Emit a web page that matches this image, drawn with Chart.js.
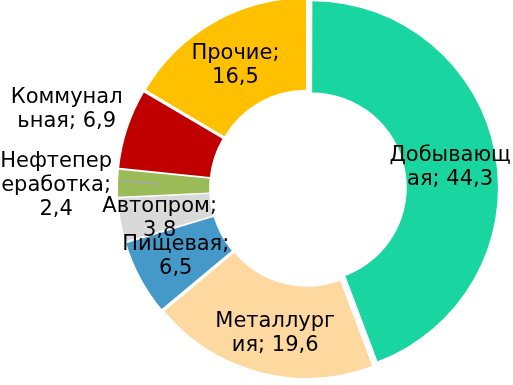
<!DOCTYPE html>
<html>
<head>
<meta charset="utf-8">
<script src="https://cdn.jsdelivr.net/npm/chart.js@4/dist/chart.umd.min.js"></script>
<style>
html,body{margin:0;padding:0;background:#fff;}
canvas{display:block;}
</style>
</head>
<body>
<canvas id="c" width="513" height="385"></canvas>
<script>
const categories = ['Добывающая', 'Металлургия', 'Пищевая', 'Автопром', 'Нефтепереработка', 'Коммунальная', 'Прочие'];
const values = [44.3, 19.6, 6.5, 3.8, 2.4, 6.9, 16.5];
const labelLines = [
  ['Добывающ', 'ая; 44,3'],
  ['Металлург', 'ия; 19,6'],
  ['Пищевая;', '6,5'],
  ['Автопром;', '3,8'],
  ['Нефтепер', 'еработка;', '2,4'],
  ['Коммунал', 'ьная; 6,9'],
  ['Прочие;', '16,5']
];
const colors = ['#19d6a0', '#fdd89f', '#4499c9', '#d9d9d9', '#9bbb59', '#c00000', '#ffc000'];

const EXPLODE = 4;               // pixels each slice is pulled out
// label placement: extra = distance beyond the outer edge for outside labels; dx/dy = small nudges
const labelPlacement = [
  {dx: 0, dy: 5},
  {dx: 4, dy: 6},
  {dx: -5, dy: 0},
  {dx: -6, dy: 6},
  {extra: 66, dx: 0, dy: 4, leader: true},
  {extra: 68, dx: 0, dy: 1},
  {dx: -1, dy: 3}
];

// Chart.js grows small arcs' radii when offset is used; undo that so only the shift remains
const radiusFix = {
  id: 'radiusFix',
  afterDatasetsUpdate(chart) {
    chart.getDatasetMeta(0).data.forEach(arc => {
      const circ = arc.endAngle - arc.startAngle;
      const fix = 1 - Math.sin(Math.min(Math.PI, circ));
      const ro = EXPLODE * fix;
      arc.innerRadius -= ro;
      arc.outerRadius -= ro;
    });
  }
};

const labelPlugin = {
  id: 'sliceLabels',
  afterDatasetsDraw(chart) {
    const ctx = chart.ctx;
    const meta = chart.getDatasetMeta(0);
    const inR = meta.controller.innerRadius;
    const outR = meta.controller.outerRadius;
    ctx.save();
    ctx.font = '21px "DejaVu Sans"';
    ctx.fillStyle = '#000';
    ctx.textAlign = 'center';
    ctx.textBaseline = 'middle';
    const lh = 24;
    meta.data.forEach((arc, i) => {
      const pl = labelPlacement[i];
      const mid = (arc.startAngle + arc.endAngle) / 2;
      const cos = Math.cos(mid), sin = Math.sin(mid);
      const r = pl.extra !== undefined ? outR + pl.extra : (inR + outR) / 2 + EXPLODE;
      if (pl.leader) {
        ctx.save();
        ctx.strokeStyle = '#a5a5a5';
        ctx.lineWidth = 1.5;
        ctx.beginPath();
        ctx.moveTo(arc.x + cos * (outR + EXPLODE - 2), arc.y + sin * (outR + EXPLODE - 2) - 3);
        ctx.lineTo(arc.x + cos * ((inR + outR) / 2 + EXPLODE + 4), arc.y + sin * ((inR + outR) / 2 + EXPLODE + 4));
        ctx.stroke();
        ctx.restore();
      }
      const cx = arc.x + cos * r + pl.dx;
      const cy = arc.y + sin * r + pl.dy;
      const lines = labelLines[i];
      const top = cy - (lines.length - 1) * lh / 2;
      lines.forEach((ln, k) => ctx.fillText(ln, cx, top + k * lh));
    });
    ctx.restore();
  }
};

new Chart(document.getElementById('c'), {
  type: 'doughnut',
  data: {
    labels: categories,
    datasets: [{
      data: values,
      backgroundColor: colors,
      borderWidth: 0,
      offset: EXPLODE * 4
    }]
  },
  options: {
    responsive: false,
    animation: false,
    events: [],
    radius: 186,
    cutout: '51%',
    layout: {padding: {left: 103, right: 0, top: 0, bottom: 9}},
    plugins: {legend: {display: false}, tooltip: {enabled: false}}
  },
  plugins: [radiusFix, labelPlugin]
});
</script>
</body>
</html>
